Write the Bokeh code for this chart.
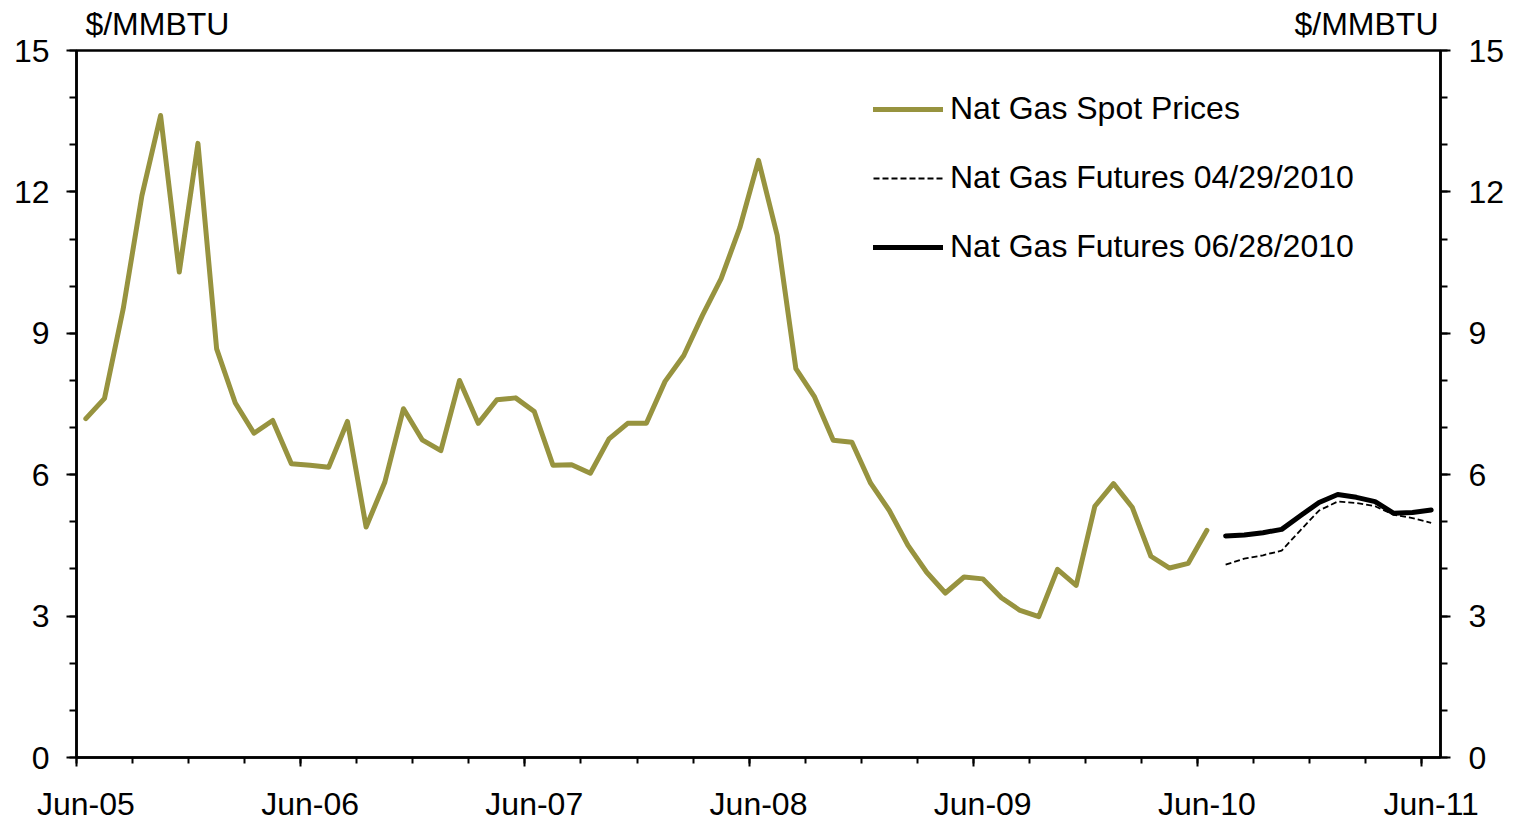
from bokeh.plotting import figure
from bokeh.models import LinearAxis, FixedTicker, Range1d, Legend, LegendItem
from bokeh.embed import file_html
from bokeh.resources import INLINE

FONT = "Liberation Sans"
FS = "32px"
OLIVE = "#97933F"

# month index 0 = Jun-05
spot_months = list(range(0, 61))
spot_prices = [7.19, 7.62, 9.52, 11.92, 13.62, 10.30, 13.03, 8.67, 7.52, 6.88,
               7.15, 6.23, 6.20, 6.16, 7.13, 4.89, 5.84, 7.40, 6.74, 6.51,
               8.00, 7.09, 7.59, 7.63, 7.34, 6.20, 6.21, 6.03, 6.76, 7.09,
               7.09, 7.98, 8.53, 9.38, 10.16, 11.24, 12.67, 11.08, 8.25, 7.65,
               6.73, 6.69, 5.82, 5.24, 4.50, 3.93, 3.49, 3.83, 3.79, 3.39,
               3.12, 2.99, 3.99, 3.65, 5.33, 5.81, 5.31, 4.27, 4.02, 4.12,
               4.82]

futures_months = list(range(61, 73))
futures_0429 = [4.09, 4.22, 4.29, 4.39, 4.82, 5.24, 5.43, 5.40, 5.33, 5.15, 5.08, 4.98]
futures_0628 = [4.70, 4.72, 4.77, 4.84, 5.13, 5.41, 5.58, 5.52, 5.43, 5.18, 5.20, 5.25]

label_months = [0, 12, 24, 36, 48, 60, 72]
year_labels = ["Jun-05", "Jun-06", "Jun-07", "Jun-08", "Jun-09", "Jun-10", "Jun-11"]
year_bounds = [-0.5, 11.5, 23.5, 35.5, 47.5, 59.5, 71.5]
quarter_bounds = [-0.5 + 3 * k for k in range(25)]
y_ticks = [0, 3, 6, 9, 12, 15]
y_minor = list(range(0, 16))
unit_text = "$/MMBTU"
unit_label_pos = [3.83, 68.54]   # above the left and right value axes

p = figure(frame_width=1364, frame_height=707,
           x_range=Range1d(-0.5, 72.5), y_range=Range1d(0, 15),
           output_backend="svg", toolbar_location=None,
           x_axis_location=None, y_axis_location=None,
           min_border_left=76, min_border_right=66, min_border_top=50, min_border_bottom=0)
p.grid.visible = False
p.outline_line_color = "black"
p.outline_line_width = 2.5
p.background_fill_color = "white"
p.border_fill_color = "white"


def style_axis(ax):
    ax.axis_line_color = "black"
    ax.axis_line_width = 2.5
    ax.major_tick_line_color = "black"
    ax.major_tick_line_width = 2
    ax.minor_tick_line_color = "black"
    ax.minor_tick_line_width = 2
    ax.major_tick_in = 0
    ax.minor_tick_in = 0
    ax.major_label_text_font = FONT
    ax.major_label_text_font_size = FS
    ax.major_label_text_color = "black"


yl = LinearAxis(ticker=FixedTicker(ticks=y_ticks, minor_ticks=y_minor))
style_axis(yl)
yl.major_tick_out = 10
yl.minor_tick_out = 7
yl.major_label_standoff = 17
p.add_layout(yl, "left")

yr = LinearAxis(ticker=FixedTicker(ticks=y_ticks, minor_ticks=y_minor))
style_axis(yr)
yr.major_tick_out = 10
yr.minor_tick_out = 7
yr.major_label_standoff = 18
p.add_layout(yr, "right")

xa = LinearAxis(ticker=FixedTicker(ticks=year_bounds, minor_ticks=quarter_bounds))
style_axis(xa)
xa.major_tick_out = 9
xa.minor_tick_out = 6
xa.major_label_text_font_size = "0px"
xa.major_label_text_color = None
xa.major_label_standoff = 0
xa.major_label_overrides = {b: "" for b in year_bounds}
p.add_layout(xa, "below")

xb = LinearAxis(ticker=FixedTicker(ticks=label_months, minor_ticks=[]),
                major_label_overrides=dict(zip(label_months, year_labels)))
style_axis(xb)
xb.axis_line_color = None
xb.major_tick_line_color = None
xb.minor_tick_line_color = None
xb.major_tick_out = 0
xb.minor_tick_out = 0
xb.major_label_standoff = 19
p.add_layout(xb, "below")

# unit captions above both value axes
xt = LinearAxis(ticker=FixedTicker(ticks=unit_label_pos, minor_ticks=[]),
                major_label_overrides={v: unit_text for v in unit_label_pos})
style_axis(xt)
xt.axis_line_color = None
xt.major_tick_line_color = None
xt.minor_tick_line_color = None
xt.major_tick_out = 0
xt.minor_tick_out = 0
xt.major_label_standoff = 9
p.add_layout(xt, "above")

r_spot = p.line(spot_months, spot_prices, line_color=OLIVE, line_width=5,
                line_join="round", line_cap="round")
r_f1 = p.line(futures_months, futures_0429, line_color="black", line_width=1.8,
              line_dash="6 3")
r_f2 = p.line(futures_months, futures_0628, line_color="black", line_width=5,
              line_join="round", line_cap="round")

legend = Legend(items=[
    LegendItem(label="Nat Gas Spot Prices", renderers=[r_spot]),
    LegendItem(label="Nat Gas Futures 04/29/2010", renderers=[r_f1]),
    LegendItem(label="Nat Gas Futures 06/28/2010", renderers=[r_f2]),
], location=(797, 492), glyph_width=70, glyph_height=36, label_height=36,
    spacing=32, label_standoff=7, padding=0, margin=0,
    border_line_color=None, background_fill_alpha=0,
    label_text_font=FONT, label_text_font_size=FS, label_text_color="black")
p.add_layout(legend)

open("out.html", "w").write(file_html(p, INLINE))
